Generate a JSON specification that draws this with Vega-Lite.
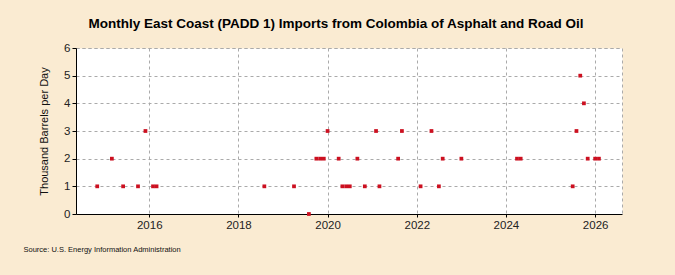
{
  "$schema": "https://vega.github.io/schema/vega-lite/v6.json",
  "width": 546,
  "height": 166,
  "autosize": "none",
  "padding": {"left": 76, "top": 48, "right": 53, "bottom": 61},
  "background": "#FAEBD2",
  "title": {
    "text": "Monthly East Coast (PADD 1) Imports from Colombia of Asphalt and Road Oil",
    "font": "Liberation Sans",
    "fontSize": 13.5,
    "fontWeight": "bold",
    "color": "#000000",
    "anchor": "middle",
    "dx": -13,
    "offset": 12
  },
  "config": {
    "view": {"fill": "#FFFFFF", "stroke": "#AAAAAA", "strokeDash": [3, 3], "strokeWidth": 1},
    "font": "Liberation Sans"
  },
  "data": {
    "values": [
      {"date": "2014/11/01", "value": 1},
      {"date": "2015/03/01", "value": 2},
      {"date": "2015/06/01", "value": 1},
      {"date": "2015/10/01", "value": 1},
      {"date": "2015/12/01", "value": 3},
      {"date": "2016/02/01", "value": 1},
      {"date": "2016/03/01", "value": 1},
      {"date": "2018/08/01", "value": 1},
      {"date": "2019/04/01", "value": 1},
      {"date": "2019/08/01", "value": 0},
      {"date": "2019/10/01", "value": 2},
      {"date": "2019/11/01", "value": 2},
      {"date": "2019/12/01", "value": 2},
      {"date": "2020/01/01", "value": 3},
      {"date": "2020/04/01", "value": 2},
      {"date": "2020/05/01", "value": 1},
      {"date": "2020/06/01", "value": 1},
      {"date": "2020/07/01", "value": 1},
      {"date": "2020/09/01", "value": 2},
      {"date": "2020/11/01", "value": 1},
      {"date": "2021/02/01", "value": 3},
      {"date": "2021/03/01", "value": 1},
      {"date": "2021/08/01", "value": 2},
      {"date": "2021/09/01", "value": 3},
      {"date": "2022/02/01", "value": 1},
      {"date": "2022/05/01", "value": 3},
      {"date": "2022/07/01", "value": 1},
      {"date": "2022/08/01", "value": 2},
      {"date": "2023/01/01", "value": 2},
      {"date": "2024/04/01", "value": 2},
      {"date": "2024/05/01", "value": 2},
      {"date": "2025/07/01", "value": 1},
      {"date": "2025/08/01", "value": 3},
      {"date": "2025/09/01", "value": 5},
      {"date": "2025/10/01", "value": 4},
      {"date": "2025/11/01", "value": 2},
      {"date": "2026/01/01", "value": 2},
      {"date": "2026/02/01", "value": 2}
    ]
  },
  "mark": {"type": "square", "filled": true, "size": 14, "color": "#CC1020", "opacity": 1, "clip": false},
  "encoding": {
    "x": {
      "field": "date",
      "type": "temporal",
      "scale": {
        "domain": [{"year": 2014, "month": 5, "date": 11}, {"year": 2026, "month": 8, "date": 9}]
      },
      "axis": {
        "values": [
          {"year": 2016, "month": 1, "date": 1},
          {"year": 2018, "month": 1, "date": 1},
          {"year": 2020, "month": 1, "date": 1},
          {"year": 2022, "month": 1, "date": 1},
          {"year": 2024, "month": 1, "date": 1},
          {"year": 2026, "month": 1, "date": 1}
        ],
        "format": "%Y",
        "labelFont": "Liberation Sans",
        "labelFontSize": 11.5,
        "labelColor": "#222222",
        "labelPadding": 2,
        "tickSize": 3,
        "tickColor": "#000000",
        "domainColor": "#000000",
        "domainWidth": 1,
        "grid": true,
        "gridColor": "#AAAAAA",
        "gridDash": [3, 3],
        "title": "Source: U.S. Energy Information Administration",
        "titleFont": "Liberation Sans",
        "titleFontSize": 7.5,
        "titleFontWeight": "normal",
        "titleColor": "#111111",
        "titleAnchor": "start",
        "titleAlign": "left",
        "titleBaseline": "middle",
        "titleX": -53,
        "titleY": 35
      }
    },
    "y": {
      "field": "value",
      "type": "quantitative",
      "scale": {"domain": [0, 6], "nice": false},
      "axis": {
        "values": [0, 1, 2, 3, 4, 5, 6],
        "title": "Thousand Barrels per Day",
        "titleFont": "Liberation Sans",
        "titleFontSize": 11,
        "titleFontWeight": "normal",
        "titleColor": "#111111",
        "titlePadding": 14,
        "labelFont": "Liberation Sans",
        "labelFontSize": 11.5,
        "labelColor": "#222222",
        "labelPadding": 2,
        "tickSize": 4,
        "tickColor": "#000000",
        "domainColor": "#000000",
        "grid": true,
        "gridColor": "#AAAAAA",
        "gridDash": [3, 3]
      }
    }
  }
}
